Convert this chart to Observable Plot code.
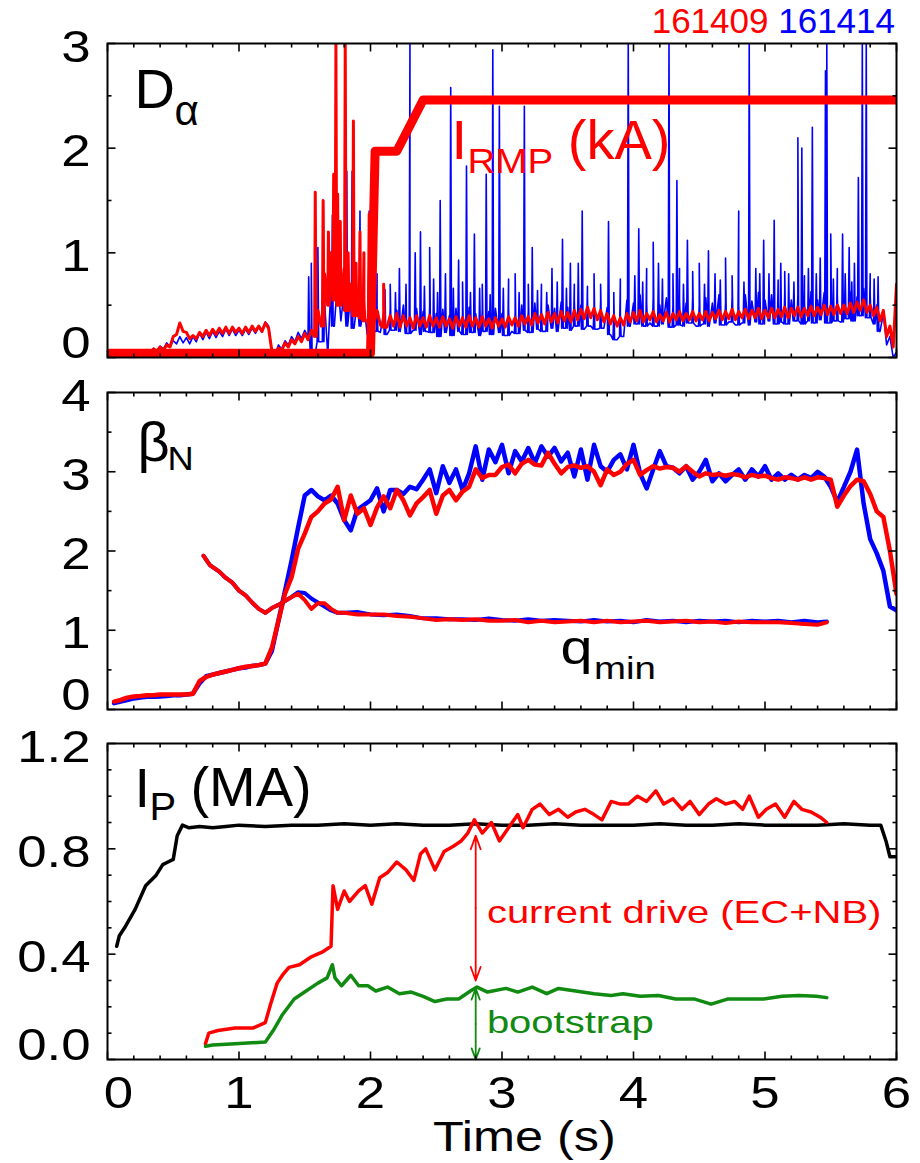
<!DOCTYPE html>
<html>
<head>
<meta charset="utf-8">
<script src="https://cdn.jsdelivr.net/npm/d3@7"></script>
<script src="https://cdn.jsdelivr.net/npm/@observablehq/plot@0.6"></script>
<style>
  html, body { margin: 0; padding: 0; background: #fff; }
  #wrap { position: relative; width: 920px; height: 1163px; background: #fff; overflow: hidden; }
  .panel { position: absolute; left: 0; }
  #hdr { position: absolute; right: 25px; top: 3px; font: 35px/35px "Liberation Sans", Arial, sans-serif; white-space: nowrap; z-index: 2; }
</style>
</head>
<body>
<div id="wrap">
  <div id="p1" class="panel" style="top:0px"></div>
  <div id="p2" class="panel" style="top:370px"></div>
  <div id="p3" class="panel" style="top:720px"></div>
  <div id="hdr"></div>
</div>
<script>
// ================= DATA =================
const xTickValues = [0, 1, 2, 3, 4, 5, 6];
const xTickLabels = ["0", "1", "2", "3", "4", "5", "6"];
const shotLabels = ["161409", "161414"];
const shotColors = ["#ff0000", "#0000ff"];
const xAxisTitle = "Time (s)";

// ---- Panel 1: D-alpha (noisy envelope, sampled every 0.05 s; lo samples sit half a step later) + IRMP
const daT0 = 0, daDT = 0.05;
const daBlueHi = [0.03,0.03,0.03,0.04,0.04,0.05,0.07,0.09,0.11,0.14,
 0.16,0.2,0.19,0.2,0.23,0.24,0.25,0.25,0.27,0.27,
 0.26,0.27,0.28,0.29,0.34,0.06,0.12,0.16,0.2,0.24,
 0.26,0.32,0.5,0.55,0.7,0.75,0.65,0.6,0.55,0.5,
 0.45,0.5,0.42,0.48,0.45,0.5,0.42,0.47,0.44,0.5,
 0.42,0.46,0.4,0.47,0.43,0.48,0.42,0.46,0.44,0.47,
 0.42,0.48,0.43,0.5,0.45,0.52,0.46,0.5,0.47,0.53,
 0.48,0.55,0.5,0.56,0.5,0.55,0.48,0.42,0.38,0.55,
 0.52,0.6,0.52,0.58,0.5,0.57,0.5,0.56,0.52,0.58,
 0.5,0.57,0.52,0.6,0.53,0.58,0.5,0.6,0.54,0.62,
 0.55,0.6,0.53,0.62,0.55,0.6,0.54,0.63,0.55,0.62,
 0.56,0.6,0.54,0.62,0.58,0.66,0.6,0.5,0.42,0.2,
 0.05];
const daBlueLo = [0.01,0.01,0.02,0.02,0.02,0.03,0.04,0.06,0.08,0.1,
 0.13,0.14,0.13,0.15,0.17,0.18,0.19,0.2,0.21,0.21,
 0.21,0.22,0.23,0.24,0.3,0.03,0.08,0.12,0.15,0.18,
 0.2,0.0,0.15,0.02,0.3,0.35,0.3,0.28,0.3,0.22,
 0.25,0.24,0.22,0.26,0.25,0.23,0.26,0.22,0.25,0.24,
 0.2,0.24,0.21,0.25,0.22,0.24,0.21,0.25,0.22,0.24,
 0.21,0.25,0.23,0.26,0.24,0.27,0.25,0.28,0.25,0.28,
 0.26,0.3,0.27,0.3,0.27,0.28,0.22,0.17,0.2,0.3,
 0.32,0.3,0.33,0.3,0.32,0.29,0.31,0.3,0.33,0.3,
 0.32,0.3,0.33,0.31,0.34,0.31,0.33,0.31,0.34,0.32,
 0.35,0.32,0.34,0.32,0.35,0.32,0.35,0.33,0.36,0.33,
 0.35,0.34,0.37,0.35,0.4,0.38,0.32,0.25,0.12,0.0];
const daBlueSpikeT = [1.53,1.55,1.6,1.64,1.71,1.82,1.86,1.92,1.99,2.05,2.15,2.22,2.3,2.34,2.38,2.45,2.48,2.53,2.57,2.61,
 2.67,2.73,2.79,2.85,2.88,2.93,2.98,3.05,3.1,3.17,3.23,3.3,3.38,3.46,3.52,3.58,3.61,3.7,3.81,3.9,
 3.96,4.04,4.1,4.15,4.19,4.27,4.33,4.35,4.41,4.5,4.57,4.62,4.7,4.8,4.88,4.93,4.99,5.03,5.07,5.12,
 5.18,5.25,5.28,5.33,5.36,5.42,5.46,5.47,5.5,5.55,5.59,5.64,5.68,5.71,5.74,5.77,5.8,5.86,
 2.02,2.11,2.19,2.27,2.41,2.51,2.63,2.7,2.76,2.83,2.91,3.01,3.13,3.2,3.27,3.34,3.42,3.49,3.55,3.65,
 3.75,3.85,4.01,4.07,4.22,4.3,4.38,4.45,4.54,4.66,4.75,4.84,4.96,5.1,5.15,5.22,5.3,5.39,5.52,5.61,5.66,5.83];
const daBlueSpikeV = [0.77,0.9,1.05,1.5,1.36,1.78,1.78,1.4,1.4,0.8,0.7,0.85,3.0,1.0,1.2,1.05,0.75,1.5,0.8,2.58,
 0.93,1.83,1.18,0.7,1.75,2.94,2.4,0.75,0.8,2.4,1.05,0.7,0.85,1.13,0.9,0.9,1.4,0.8,1.3,0.75,
 3.0,1.23,0.85,1.1,0.9,3.0,1.69,0.85,1.12,0.9,1.02,0.8,0.95,1.4,3.0,0.85,1.12,0.8,1.31,0.9,
 0.8,2.1,2.0,0.85,2.2,0.95,2.74,3.0,1.18,0.85,1.18,1.05,0.9,1.72,3.0,3.0,0.8,0.77,
 0.6,0.65,0.62,0.7,0.68,0.62,0.66,0.72,0.62,0.66,0.6,0.66,0.62,0.7,0.64,0.62,0.72,0.66,0.7,0.68,
 0.7,0.62,0.78,0.72,0.75,0.8,0.7,0.82,0.7,0.74,0.78,0.72,0.8,0.74,0.82,0.72,0.78,0.8,0.75,0.8,0.72,0.75];
const daRedHi = [0.04,0.04,0.04,0.05,0.05,0.06,0.07,0.08,0.1,0.12,
 0.2,0.33,0.24,0.21,0.24,0.26,0.27,0.28,0.29,0.29,
 0.28,0.29,0.3,0.3,0.33,0.06,0.09,0.14,0.17,0.2,
 0.23,0.26,0.45,0.8,1.0,0.95,0.85,0.7,0.6,0.55,
 0.5,0.45,0.42,0.4,0.42,0.4,0.38,0.4,0.38,0.4,
 0.38,0.39,0.37,0.39,0.38,0.4,0.38,0.39,0.37,0.38,
 0.37,0.39,0.38,0.4,0.39,0.42,0.41,0.43,0.42,0.44,
 0.43,0.45,0.46,0.48,0.47,0.45,0.42,0.4,0.38,0.42,
 0.43,0.45,0.42,0.44,0.41,0.43,0.42,0.44,0.42,0.44,
 0.42,0.44,0.43,0.45,0.44,0.46,0.44,0.46,0.45,0.47,
 0.45,0.47,0.46,0.48,0.47,0.48,0.47,0.49,0.48,0.5,
 0.49,0.5,0.5,0.52,0.53,0.55,0.5,0.48,0.45,0.3,
 0.7];
const daRedLo = [0.02,0.02,0.02,0.03,0.03,0.04,0.05,0.06,0.07,0.1,
 0.22,0.25,0.18,0.18,0.2,0.21,0.22,0.23,0.23,0.24,
 0.23,0.24,0.25,0.25,0.28,0.03,0.07,0.1,0.13,0.15,
 0.17,0.2,0.3,0.5,0.55,0.5,0.45,0.4,0.38,0.35,
 0.32,0.31,0.29,0.3,0.29,0.3,0.28,0.3,0.29,0.3,
 0.29,0.3,0.28,0.3,0.29,0.3,0.29,0.3,0.28,0.3,
 0.29,0.31,0.3,0.32,0.31,0.33,0.32,0.34,0.33,0.35,
 0.34,0.36,0.37,0.38,0.36,0.34,0.32,0.3,0.31,0.34,
 0.35,0.34,0.36,0.34,0.35,0.34,0.36,0.35,0.36,0.35,
 0.36,0.35,0.37,0.36,0.37,0.36,0.38,0.37,0.38,0.37,
 0.38,0.38,0.39,0.38,0.4,0.39,0.4,0.4,0.41,0.41,
 0.41,0.42,0.42,0.43,0.45,0.43,0.4,0.35,0.2,0.1];
const daRedSpikeT = [1.58,1.64,1.68,1.72,1.737,1.75,1.77,1.808,1.83,1.87,1.89,1.92,1.95,1.99,2.1];
const daRedSpikeV = [1.58,1.5,1.2,1.75,3.0,1.56,1.3,3.0,1.0,2.26,0.9,1.2,1.0,1.37,0.7];
const irmpT = [0, 2.0, 2.035, 2.2, 2.4, 6.0];
const irmpV = [0.04, 0.04, 1.97, 1.97, 2.46, 2.46];
const p1YTicks = [0, 1, 2, 3];
const p1YLabels = ["0", "1", "2", "3"];
const p1YMinor = [0.5, 1.5, 2.5];

// ---- Panel 2: beta_N and q_min
const bnT0 = 0.05, bnDT = 0.05;
const bnBlue = [0.08,0.1,0.12,0.14,0.15,0.16,0.16,0.165,0.17,0.18,
 0.18,0.19,0.2,0.33,0.42,0.44,0.46,0.48,0.5,0.52,
 0.53,0.55,0.56,0.58,0.74,1.12,1.5,1.88,2.3,2.7,
 2.77,2.69,2.64,2.7,2.6,2.39,2.26,2.52,2.58,2.64,
 2.79,2.5,2.77,2.77,2.72,2.81,2.78,2.9,3.03,2.73,
 3.07,2.86,3.03,2.77,2.98,3.32,2.9,3.28,3.12,3.34,
 2.98,3.26,3.13,3.3,3.11,3.32,3.19,3.3,3.13,3.24,
 2.94,3.28,2.9,3.34,3.07,3.0,3.15,3.22,3.03,3.34,
 2.98,2.79,3.03,3.26,3.07,3.05,2.98,3.07,2.9,3.0,
 3.15,2.88,2.98,2.88,2.96,3.03,2.9,3.03,2.94,3.07,
 2.9,2.98,2.9,2.96,2.9,2.96,2.92,3.0,2.94,2.81,
 2.62,2.81,3.0,3.28,2.6,2.15,1.97,1.75,1.3,1.25];
const bnRed = [0.1,0.12,0.15,0.165,0.17,0.18,0.18,0.19,0.19,0.19,
 0.19,0.19,0.2,0.36,0.41,0.44,0.46,0.48,0.5,0.52,
 0.54,0.55,0.56,0.58,0.78,1.12,1.46,1.67,2.03,2.22,
 2.43,2.5,2.6,2.65,2.81,2.39,2.7,2.47,2.54,2.33,
 2.55,2.69,2.54,2.77,2.64,2.45,2.6,2.68,2.77,2.47,
 2.7,2.77,2.64,2.75,2.81,3.03,2.92,2.96,2.96,3.06,
 3.09,2.98,3.1,3.15,3.09,3.08,3.24,3.1,2.98,3.06,
 3.08,3.05,3.07,3.0,2.83,3.03,2.96,3.0,3.1,3.15,
 2.96,3.02,3.07,3.04,3.06,3.05,3.0,3.07,3.0,2.94,
 2.98,2.96,2.97,2.95,2.97,2.96,2.93,2.96,2.94,2.95,
 2.92,2.9,2.93,2.92,2.9,2.93,2.9,2.93,2.92,2.9,
 2.56,2.7,2.82,2.9,2.88,2.72,2.5,2.43,2.0,1.46];
const qT = [0.73,0.78,0.85,0.9,0.95,1.0,1.05,1.1,1.15,1.2,
 1.25,1.3,1.35,1.4,1.45,1.5,1.55,1.6,1.65,1.7,
 1.75,1.8,1.9,2.0,2.1,2.2,2.3,2.4,2.5,2.6,
 2.7,2.8,2.9,3.0,3.1,3.2,3.3,3.4,3.5,3.6,
 3.7,3.8,3.9,4.0,4.1,4.2,4.3,4.4,4.5,4.6,
 4.7,4.8,4.9,5.0,5.1,5.2,5.3,5.4,5.47];
const qBlue = [1.94,1.82,1.74,1.66,1.6,1.5,1.44,1.35,1.27,1.22,
 1.28,1.32,1.37,1.42,1.48,1.47,1.4,1.35,1.3,1.25,
 1.22,1.22,1.23,1.2,1.19,1.2,1.18,1.15,1.15,1.14,
 1.14,1.13,1.15,1.13,1.12,1.14,1.12,1.13,1.12,1.11,
 1.13,1.11,1.12,1.1,1.13,1.11,1.12,1.1,1.12,1.11,
 1.12,1.1,1.12,1.11,1.12,1.1,1.12,1.1,1.11];
const qRed = [1.94,1.82,1.74,1.66,1.6,1.5,1.44,1.35,1.27,1.22,
 1.28,1.32,1.37,1.42,1.46,1.38,1.27,1.34,1.34,1.27,
 1.22,1.22,1.2,1.2,1.2,1.18,1.17,1.15,1.13,1.14,
 1.13,1.14,1.12,1.12,1.13,1.1,1.12,1.1,1.11,1.12,
 1.1,1.12,1.1,1.11,1.12,1.1,1.11,1.12,1.1,1.11,
 1.09,1.11,1.1,1.1,1.1,1.09,1.08,1.07,1.1];
const p2YTicks = [0, 1, 2, 3, 4];
const p2YLabels = ["0", "1", "2", "3", "4"];
const p2YMinor = [0.5, 1.5, 2.5, 3.5];

// ---- Panel 3: plasma current, current drive, bootstrap
const ipT = [0.07,0.09,0.13,0.21,0.29,0.37,0.42,0.46,0.5,0.53,
 0.57,0.62,0.7,0.8,0.9,1.0,1.2,1.4,1.6,1.8,
 2.0,2.2,2.4,2.6,2.8,3.0,3.2,3.4,3.6,3.8,
 4.0,4.2,4.4,4.6,4.8,5.0,5.2,5.4,5.6,5.8,
 5.88,5.92,5.95,6.0];
const ipV = [0.43,0.47,0.5,0.57,0.66,0.7,0.74,0.75,0.76,0.85,
 0.89,0.88,0.885,0.88,0.885,0.89,0.885,0.89,0.89,0.895,
 0.89,0.895,0.89,0.89,0.895,0.89,0.89,0.895,0.89,0.89,
 0.89,0.895,0.89,0.89,0.895,0.89,0.89,0.89,0.895,0.89,
 0.89,0.83,0.77,0.77];
const cdT = [0.745,0.77,0.84,0.97,1.11,1.2,1.24,1.29,1.33,1.38,
 1.46,1.55,1.64,1.7,1.715,1.75,1.8,1.84,1.91,1.96,
 2.01,2.07,2.13,2.2,2.27,2.33,2.38,2.42,2.49,2.56,
 2.63,2.69,2.74,2.79,2.85,2.92,2.98,3.05,3.12,3.16,
 3.23,3.29,3.36,3.43,3.5,3.56,3.63,3.7,3.76,3.83,
 3.9,3.96,4.03,4.1,4.17,4.23,4.3,4.37,4.43,4.5,
 4.57,4.63,4.7,4.77,4.83,4.88,4.95,5.01,5.08,5.15,
 5.22,5.28,5.35,5.42,5.47];
const cdV = [0.06,0.1,0.11,0.12,0.12,0.14,0.21,0.29,0.32,0.35,
 0.36,0.39,0.41,0.43,0.66,0.57,0.64,0.6,0.64,0.66,
 0.59,0.69,0.71,0.75,0.72,0.68,0.78,0.8,0.72,0.79,
 0.81,0.83,0.86,0.91,0.86,0.9,0.83,0.88,0.93,0.88,
 0.95,0.97,0.93,0.95,0.92,0.94,0.95,0.93,0.91,0.98,
 0.97,0.97,1.0,0.98,1.02,0.97,0.99,0.95,0.98,0.93,
 0.97,0.99,0.97,0.98,0.95,1.0,0.92,0.95,0.97,0.92,
 0.98,0.95,0.94,0.92,0.9];
const bsT = [0.745,0.8,0.97,1.2,1.26,1.33,1.42,1.51,1.6,1.67,
 1.71,1.73,1.78,1.85,1.91,1.98,2.04,2.13,2.22,2.31,
 2.4,2.49,2.58,2.67,2.76,2.81,2.89,3.03,3.12,3.23,
 3.34,3.43,3.56,3.7,3.83,3.92,4.05,4.19,4.32,4.46,
 4.59,4.72,4.86,4.99,5.13,5.26,5.39,5.47];
const bsV = [0.05,0.055,0.06,0.066,0.11,0.17,0.23,0.26,0.29,0.31,
 0.36,0.31,0.28,0.32,0.28,0.28,0.26,0.275,0.25,0.256,
 0.24,0.22,0.23,0.23,0.26,0.275,0.256,0.27,0.256,0.275,
 0.25,0.27,0.26,0.25,0.243,0.25,0.24,0.243,0.23,0.23,
 0.21,0.23,0.23,0.23,0.24,0.243,0.24,0.235];
const arrowT = 2.8;
const cdArrow = [0.3, 0.85];
const bsArrow = [0.0, 0.27];
const p3YTicks = [0, 0.4, 0.8, 1.2];
const p3YLabels = ["0.0", "0.4", "0.8", "1.2"];
const p3YMinor = [0.1, 0.2, 0.3, 0.5, 0.6, 0.7, 0.9, 1.0, 1.1];

// Annotation texts (position in data units: t seconds, v value)
const p1Notes = [
  {t: 0.205, v: 2.379, s: "D", fs: 56, c: "#000", sx: 1.0},
  {t: 0.51, v: 2.22, s: "α", fs: 42, c: "#000", sx: 1.0},
  {t: 2.616, v: 1.90, s: "I", fs: 56, c: "#ff0000", sx: 1.0},
  {t: 2.738, v: 1.767, s: "RMP", fs: 35, c: "#ff0000", sx: 1.1},
  {t: 3.50, v: 1.90, s: "(kA)", fs: 56, c: "#ff0000", sx: 1.0}
];
const p2Notes = [
  {t: 0.228, v: 3.14, s: "β", fs: 56, c: "#000", sx: 1.0},
  {t: 0.456, v: 3.016, s: "N", fs: 33, c: "#000", sx: 1.1},
  {t: 3.445, v: 0.568, s: "q", fs: 48, c: "#000", sx: 1.2},
  {t: 3.70, v: 0.39, s: "min", fs: 32, c: "#000", sx: 1.2}
];
const p3Notes = [
  {t: 0.205, v: 0.957, s: "I", fs: 56, c: "#000", sx: 1.0},
  {t: 0.319, v: 0.908, s: "P", fs: 38, c: "#000", sx: 1.05},
  {t: 0.631, v: 0.961, s: "(MA)", fs: 56, c: "#000", sx: 1.0},
  {t: 2.885, v: 0.517, s: "current drive (EC+NB)", fs: 32, c: "#ff0000", sx: 1.25},
  {t: 2.885, v: 0.10, s: "bootstrap", fs: 32, c: "#108a10", sx: 1.25}
];

// ================= BUILD =================
const FONT = '"Liberation Sans", Arial, Helvetica, sans-serif';
const RED = "#ff0000", BLUE = "#0000ff", GREEN = "#108a10", BLACK = "#000000";
const xMinorTicks = d3.range(1, 30).filter(i => i % 5 !== 0).map(i => i / 5);
const FRAME_W = 789;
const X_SPAN = 6;

function zigzag(t0, dt, hi, lo, spT, spV) {
  const pts = [];
  hi.forEach((v, i) => {
    pts.push({t: t0 + i * dt, v});
    if (i < lo.length) pts.push({t: t0 + i * dt + dt / 2, v: lo[i]});
  });
  // spikes: narrow flanks take the nearest lower-envelope sample as base
  spT.forEach((t, i) => {
    const k = Math.min(lo.length - 1, Math.max(0, Math.round((t - t0 - dt / 2) / dt)));
    const base = lo[k];
    pts.push({t: t - 0.006, v: base}, {t, v: spV[i]}, {t: t + 0.006, v: base});
  });
  return pts.sort((a, b) => a.t - b.t);
}
const regular = (t0, dt, vals) => vals.map((v, i) => ({t: t0 + i * dt, v}));
const paired = (ts, vs) => ts.map((t, i) => ({t, v: vs[i]}));

function noteMarks(notes) {
  return notes.map(n => Plot.text([n], {
    x: "t", y: "v", text: "s", fill: n.c, fontSize: n.fs, fontFamily: FONT,
    textAnchor: "start", lineAnchor: "bottom", ariaDescription: "sx" + n.sx
  }));
}

// inward tick marks on all four sides (short two-point segments), lengths in px converted to data units
function frameAxes(yDomain, yMajor, yMinor, fh) {
  const [y0, y1] = yDomain, ySpan = y1 - y0;
  const M = 8, m = 4;
  const dyM = M * ySpan / fh, dym = m * ySpan / fh;
  const dxM = M * X_SPAN / FRAME_W, dxm = m * X_SPAN / FRAME_W;
  const segs = [];
  let k = 0;
  const seg = (ta, va, tb, vb) => { segs.push({t: ta, v: va, k}, {t: tb, v: vb, k}); k++; };
  xTickValues.forEach(x => { seg(x, y0, x, y0 + dyM); seg(x, y1, x, y1 - dyM); });
  xMinorTicks.forEach(x => { seg(x, y0, x, y0 + dym); seg(x, y1, x, y1 - dym); });
  yMajor.forEach(y => { seg(0, y, dxM, y); seg(X_SPAN, y, X_SPAN - dxM, y); });
  yMinor.forEach(y => { seg(0, y, dxm, y); seg(X_SPAN, y, X_SPAN - dxm, y); });
  return [
    Plot.line(segs, {x: "t", y: "v", z: "k", stroke: BLACK, strokeWidth: 1.6, strokeLinecap: "butt"}),
    Plot.frame({stroke: BLACK, strokeWidth: 2})
  ];
}

function yLabelMarks(vals, labels) {
  const rows = vals.map((v, i) => ({v, s: labels[i]}));
  const base = {y: "v", text: "s", frameAnchor: "left", textAnchor: "end", dx: -17,
    fontSize: 44, fontFamily: FONT, fill: BLACK, ariaDescription: "sx1.2"};
  return [
    Plot.text(rows.slice(1), {...base, lineAnchor: "middle", dy: 4}),
    Plot.text(rows.slice(0, 1), {...base, lineAnchor: "bottom", dy: 0})
  ];
}

function stretchText(svg) {
  svg.querySelectorAll("g[aria-description]").forEach(g => {
    const d = g.getAttribute("aria-description") || "";
    if (!d.startsWith("sx")) return;
    const sx = +d.slice(2);
    if (!(sx > 0) || sx === 1) return;
    g.querySelectorAll("text").forEach(t => {
      let tr = t.getAttribute("transform");
      if (!tr) {
        const x = t.getAttribute("x") || 0, y = t.getAttribute("y") || 0;
        t.removeAttribute("x"); t.removeAttribute("y");
        tr = `translate(${x},${y})`;
      }
      t.setAttribute("transform", tr + ` scale(${sx},1)`);
    });
  });
}

function makePanel(id, opts) {
  const svg = Plot.plot({
    width: 920, height: opts.height,
    marginLeft: 107, marginRight: 24, marginTop: opts.marginTop, marginBottom: opts.marginBottom,
    x: {domain: [0, X_SPAN], axis: null},
    y: {domain: opts.yDomain, axis: null},
    style: {fontFamily: FONT, background: "transparent", overflow: "visible"},
    marks: opts.marks
  });
  stretchText(svg);
  document.getElementById(id).appendChild(svg);
}

// header
const hdr = document.getElementById("hdr");
shotLabels.forEach((s, i) => {
  if (i) hdr.appendChild(document.createTextNode(" "));
  const sp = document.createElement("span");
  sp.textContent = s; sp.style.color = shotColors[i];
  hdr.appendChild(sp);
});

// Panel 1
const daBlue = zigzag(daT0, daDT, daBlueHi, daBlueLo, daBlueSpikeT, daBlueSpikeV);
const daRed = zigzag(daT0, daDT, daRedHi, daRedLo, daRedSpikeT, daRedSpikeV);
makePanel("p1", {
  height: 380, marginTop: 43, marginBottom: 23, yDomain: [0, 3],
  marks: [
    Plot.line(daBlue, {x: "t", y: "v", stroke: BLUE, strokeWidth: 1.6, clip: true}),
    Plot.line(daRed, {x: "t", y: "v", stroke: RED, strokeWidth: 3, clip: true}),
    Plot.line(paired(irmpT, irmpV), {x: "t", y: "v", stroke: RED, strokeWidth: 9, clip: true}),
    ...frameAxes([0, 3], p1YTicks, p1YMinor, 314),
    ...yLabelMarks(p1YTicks, p1YLabels),
    ...noteMarks(p1Notes)
  ]
});

// Panel 2
makePanel("p2", {
  height: 350, marginTop: 22, marginBottom: 11, yDomain: [0, 4],
  marks: [
    Plot.line(regular(bnT0, bnDT, bnBlue), {x: "t", y: "v", stroke: BLUE, strokeWidth: 4.5, clip: true}),
    Plot.line(regular(bnT0, bnDT, bnRed), {x: "t", y: "v", stroke: RED, strokeWidth: 4.5, clip: true}),
    Plot.line(paired(qT, qBlue), {x: "t", y: "v", stroke: BLUE, strokeWidth: 4, clip: true}),
    Plot.line(paired(qT, qRed), {x: "t", y: "v", stroke: RED, strokeWidth: 4, clip: true}),
    ...frameAxes([0, 4], p2YTicks, p2YMinor, 317),
    ...yLabelMarks(p2YTicks, p2YLabels),
    ...noteMarks(p2Notes)
  ]
});

// Panel 3
const cdMid = (cdArrow[0] + cdArrow[1]) / 2, bsMid = (bsArrow[0] + bsArrow[1]) / 2;
const arrowRows = [
  {t: arrowT, a: cdMid, b: cdArrow[1], c: RED},
  {t: arrowT, a: cdMid, b: cdArrow[0], c: RED},
  {t: arrowT, a: bsMid, b: bsArrow[1], c: GREEN},
  {t: arrowT, a: bsMid, b: bsArrow[0], c: GREEN}
];
const xLabelRows = xTickValues.map((v, i) => ({v, s: xTickLabels[i]}));
makePanel("p3", {
  height: 443, marginTop: 23, marginBottom: 104, yDomain: [0, 1.2],
  marks: [
    Plot.line(paired(ipT, ipV), {x: "t", y: "v", stroke: BLACK, strokeWidth: 3.5, clip: true}),
    Plot.line(paired(cdT, cdV), {x: "t", y: "v", stroke: RED, strokeWidth: 3.5, clip: true}),
    Plot.line(paired(bsT, bsV), {x: "t", y: "v", stroke: GREEN, strokeWidth: 3.5, clip: true}),
    Plot.arrow(arrowRows, {x1: "t", x2: "t", y1: "a", y2: "b", stroke: "c", strokeWidth: 1.8, headLength: 12, headAngle: 40}),
    ...frameAxes([0, 1.2], p3YTicks, p3YMinor, 316),
    ...yLabelMarks(p3YTicks, p3YLabels),
    Plot.text(xLabelRows.slice(1), {x: "v", text: "s", frameAnchor: "bottom", lineAnchor: "bottom", dy: 48,
      fontSize: 44, fontFamily: FONT, fill: BLACK, ariaDescription: "sx1.2"}),
    Plot.text(xLabelRows.slice(0, 1), {x: "v", text: "s", frameAnchor: "bottom", lineAnchor: "bottom", dy: 48, dx: 11,
      fontSize: 44, fontFamily: FONT, fill: BLACK, ariaDescription: "sx1.2"}),
    Plot.text([{t: 3.17, s: xAxisTitle}], {x: "t", text: "s", frameAnchor: "bottom", lineAnchor: "bottom", dy: 91,
      fontSize: 42, fontFamily: FONT, fill: BLACK, ariaDescription: "sx1.2"}),
    ...noteMarks(p3Notes)
  ]
});
</script>
</body>
</html>
